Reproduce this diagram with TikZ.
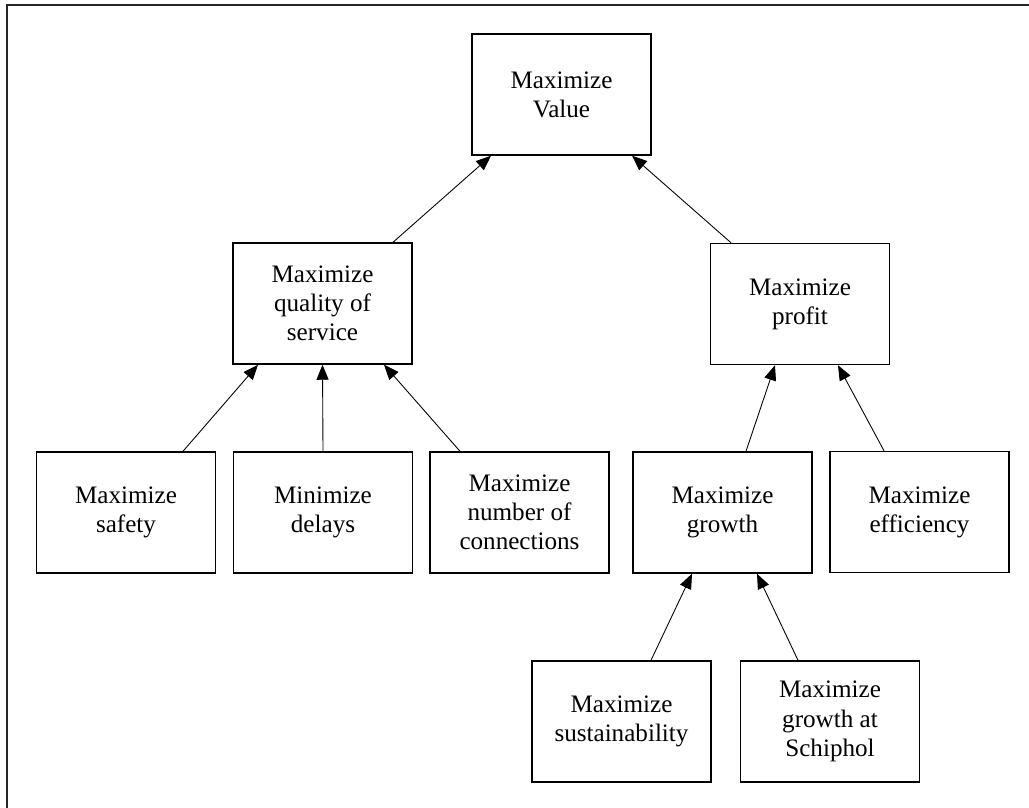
\documentclass[tikz,border=0pt]{standalone}
\usepackage{fontspec}
\setmainfont{Liberation Serif}
\usetikzlibrary{arrows.meta,calc}
\begin{document}
\begin{tikzpicture}[x=0.02cm,y=-0.02cm,
  goal/.style={draw, line width=0.85pt, minimum width=3.58cm, minimum height=2.42cm,
    align=center, inner sep=0pt, font=\fontsize{14.3}{16.6}\selectfont},
  link/.style={line width=0.5pt, -{Triangle[length=0.3cm,width=0.24cm]}},
  frame/.style={line width=1.2pt, draw=black!85}]
\useasboundingbox (0,0) rectangle (1029,808);
% page frame (top and left edges)
\draw[frame] (7,808) -- (7,5) -- (1029,5);

% objectives hierarchy
\node[goal] (val)  at (561.5, 94.5) {Maximize\\Value};
\node[goal] (qual) at (322.5,303.5) {Maximize\\quality of\\service};
\node[goal] (prof) at (800,304)     {Maximize\\profit};
\node[goal] (safe) at (126,512.5)   {Maximize\\safety};
\node[goal] (del)  at (323,512.5)   {Minimize\\delays};
\node[goal] (conn) at (519.5,512.5) {Maximize\\number of\\connections};
\node[goal] (grow) at (722.5,512.5) {Maximize\\growth};
\node[goal] (eff)  at (919.5,512)   {Maximize\\efficiency};
\node[goal] (sust) at (621.5,721.5) {Maximize\\sustainability};
\node[goal] (schi) at (830,721.5)   {Maximize\\growth at\\Schiphol};

% contributions to higher-level objectives
\draw[link] ($(qual.north)+(70.5,0)$) -- ($(val.south)+(-70.5,0)$);
\draw[link] ($(prof.north)+(-69,0)$)  -- ($(val.south)+(70.5,0)$);
\draw[link] ($(safe.north)+(57,0)$)   -- ($(qual.south)+(-64.5,0)$);
\draw[link] (del.north) -- (qual.south);
\draw[link] ($(conn.north)+(-59.5,0)$) -- ($(qual.south)+(61.5,0)$);
\draw[link] ($(grow.north)+(23.5,0)$) -- ($(prof.south)+(-25,0)$);
\draw[link] ($(eff.north)+(-35.5,0)$) -- ($(prof.south)+(38,0)$);
\draw[link] ($(sust.north)+(29.5,0)$) -- ($(grow.south)+(-30.5,0)$);
\draw[link] ($(schi.north)+(-32,0)$)  -- ($(grow.south)+(34.5,0)$);
\end{tikzpicture}
\end{document}
